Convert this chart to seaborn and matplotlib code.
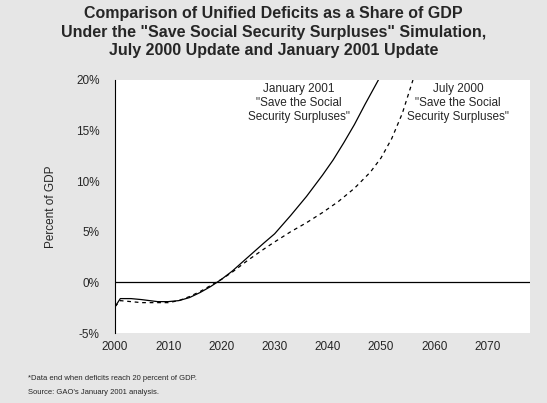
import matplotlib
matplotlib.use("Agg")
import matplotlib.pyplot as plt
import seaborn as sns
import numpy as np

years_jan = [2000, 2001, 2003, 2005, 2008, 2010, 2012, 2014, 2016, 2018, 2020, 2022, 2025, 2028, 2030, 2033, 2036, 2039, 2041, 2043, 2045, 2047, 2049.5]
jan_2001 = [-2.4, -1.6, -1.6, -1.7, -1.9, -1.9, -1.8, -1.5, -1.0, -0.4, 0.3, 1.1, 2.5, 3.9, 4.8, 6.6, 8.5, 10.6, 12.1, 13.8, 15.6, 17.6, 20.0]
years_jul = [2000, 2001, 2003, 2005, 2008, 2010, 2012, 2014, 2016, 2018, 2020, 2022, 2025, 2028, 2030, 2033, 2036, 2039, 2042, 2045, 2048, 2050, 2052, 2054, 2056]
jul_2000 = [-2.4, -1.8, -1.9, -2.0, -2.0, -2.0, -1.8, -1.4, -0.9, -0.3, 0.3, 1.0, 2.2, 3.3, 4.0, 5.0, 5.9, 6.9, 8.0, 9.3, 10.9, 12.3, 14.2, 16.7, 20.0]
yticks = [-5, 0, 5, 10, 15, 20]
xticks = [2000, 2010, 2020, 2030, 2040, 2050, 2060, 2070]

sns.set_style("white")
plt.rcParams['font.family'] = ['Liberation Sans', 'DejaVu Sans']
fig = plt.figure(figsize=(5.47, 4.03), dpi=100)
fig.patch.set_facecolor('#e6e6e6')
ax = fig.add_axes([115/547, 1-333/403, 415/547, 253/403])
ax.set_facecolor('white')
sns.lineplot(x=years_jan, y=jan_2001, ax=ax, color='black', lw=0.9)
sns.lineplot(x=years_jul, y=jul_2000, ax=ax, color='black', lw=0.9, linestyle=(0, (3, 3)))
ax.axhline(0, color='black', lw=0.9)
ax.set_xlim(2000, 2078)
ax.set_ylim(-5, 20)
ax.set_yticks(yticks)
ax.set_yticklabels([f"{v}%" for v in yticks], fontsize=8.5)
ax.set_xticks(xticks)
ax.set_xticklabels([str(v) for v in xticks], fontsize=8.5)
ax.tick_params(axis='y', length=3, pad=8)
ax.tick_params(axis='x', length=0, pad=6)
for s in ['top', 'right', 'bottom']:
    ax.spines[s].set_visible(False)
ax.spines['left'].set_color('black')
ax.set_ylabel("Percent of GDP", fontsize=8.5, labelpad=14)
ax.text(2034.5, 19.7, 'January 2001\n"Save the Social\nSecurity Surpluses"', ha='center', va='top', fontsize=8.5)
ax.text(2064.5, 19.7, 'July 2000\n"Save the Social\nSecurity Surpluses"', ha='center', va='top', fontsize=8.5)
fig.text(0.5, 1-6/403, 'Comparison of Unified Deficits as a Share of GDP\nUnder the "Save Social Security Surpluses" Simulation,\nJuly 2000 Update and January 2001 Update',
         ha='center', va='top', fontsize=11.5, fontweight='bold', linespacing=1.3)
fig.text(28/547, 1-378/403, '*Data end when deficits reach 20 percent of GDP.', fontsize=5.5, va='center')
fig.text(28/547, 1-393/403, "Source: GAO's January 2001 analysis.", fontsize=5.5, va='center')
fig.savefig("out.png", dpi=100, facecolor=fig.get_facecolor())
